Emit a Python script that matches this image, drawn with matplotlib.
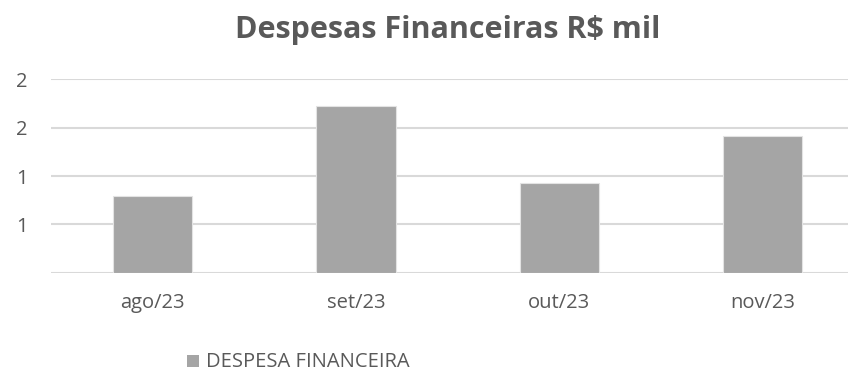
import matplotlib
matplotlib.use("Agg")
import matplotlib.pyplot as plt
from matplotlib.ticker import FuncFormatter, MultipleLocator
from matplotlib.patches import Rectangle

categories = ["ago/23", "set/23", "out/23", "nov/23"]
despesa_financeira = [0.79, 1.72, 0.93, 1.41]
series_name = "DESPESA FINANCEIRA"
chart_title = "Despesas Financeiras R$ mil"

TEXT = "#595959"
BAR = "#A5A5A5"
GRID = "#D9D9D9"
FONT = ["Open Sans", "DejaVu Sans"]

plt.rcParams["font.family"] = FONT

W, H = 848, 374
fig = plt.figure(figsize=(W / 100, H / 100), dpi=100)
fig.patch.set_facecolor("white")

# plot area in pixel coordinates (left, bottom, right, top)
left, right = 51, 848
top, bottom = 79.3, 272.7
ax = fig.add_axes([left / W, 1 - bottom / H, (right - left) / W, (bottom - top) / H])

x = list(range(len(categories)))
ax.bar(x, despesa_financeira, width=0.39, color=BAR, edgecolor="#E3E3E3",
       linewidth=0.8, zorder=3)

ax.set_xlim(-0.5, -0.5 + (right - left) / 203.3)
ax.set_ylim(0, 2.0)
ax.yaxis.set_major_locator(MultipleLocator(0.5))
ax.yaxis.set_major_formatter(FuncFormatter(lambda v, p: "" if v <= 0 else str(int(v + 0.5))))
ax.grid(axis="y", color=GRID, linewidth=1.5, zorder=0)
ax.set_axisbelow(True)
for s in ax.spines.values():
    s.set_visible(False)
ax.set_xticks(x)
ax.set_xticklabels(categories)
ax.tick_params(axis="both", length=0, colors=TEXT, labelsize=14.5)
ax.tick_params(axis="x", pad=14.5)
ax.tick_params(axis="y", pad=17)

fig.text(448 / W, 1 - 38 / H, chart_title, ha="center", va="baseline",
         fontsize=22, fontweight="bold", color=TEXT)

# legend entry below the plot
fig.patches.append(Rectangle((187 / W, 1 - 367 / H), 12 / W, 12 / H,
                             transform=fig.transFigure, facecolor=BAR, edgecolor="none"))
fig.text(206 / W, 1 - 367 / H, series_name, ha="left", va="baseline",
         fontsize=14.5, color=TEXT)

fig.savefig("out.png", dpi=100, facecolor="white")
